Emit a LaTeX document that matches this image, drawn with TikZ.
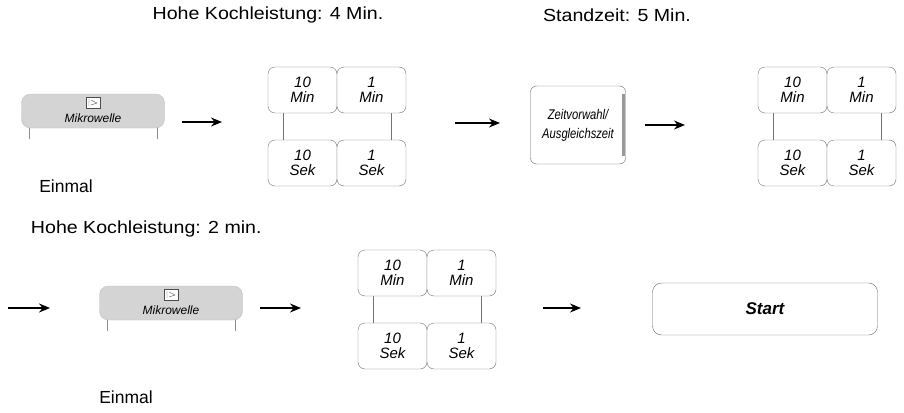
\documentclass[tikz,border=0pt]{standalone}
\usepackage{fontspec}
\setmainfont{Liberation Sans}
\usetikzlibrary{arrows.meta}
\tikzset{
  key/.style={draw=black!55, rounded corners=7pt, minimum width=69pt, minimum height=46pt,
    inner sep=0pt, align=center, font=\itshape\fontsize{15}{15.5}\selectfont},
  arr/.style={-{Stealth[length=11pt,width=9pt]}, line width=1.6pt},
  lbl/.style={font=\fontsize{17.5}{20}\selectfont},
  head/.style={font=\fontsize{17.5}{20}\selectfont, scale=1.0, xscale=1.12}
}
\newcommand\keypad[3]{% name, left, top
  \draw[black!55, fill=white] (#2+15,#3+40) rectangle (#2+123,#3+80);
  \node[key, fill=white] (#1a) at (#2+34.5,#3+23) {10\\Min};
  \node[key, fill=white] (#1b) at (#2+103.5,#3+23) {1\\Min};
  \node[key, fill=white] (#1c) at (#2+34.5,#3+96) {10\\Sek};
  \node[key, fill=white] (#1d) at (#2+103.5,#3+96) {1\\Sek};
}
\newcommand\mwbutton[3]{% name, center x, center y
  \draw[black!45] (#2-64,#3+12) -- (#2-64,#3+28);
  \draw[black!45] (#2+64,#3+12) -- (#2+64,#3+28);
  \node[fill=black!17, draw=black!25, rounded corners=9pt, minimum width=143pt, minimum height=34pt,
    inner sep=0pt] (#1) at (#2,#3) {};
  \draw[black!70, fill=white] (#2-7,#3-14) rectangle (#2+7,#3-3);
  \draw[black!70] (#2-4,#3-12) -- (#2-4,#3-5) (#2-2,#3-11) -- (#2+4,#3-8) -- (#2-2,#3-6);
  \node[font=\itshape\fontsize{12}{13}\selectfont] at (#2,#3+7) {Mikrowelle};
}
\begin{document}
\begin{tikzpicture}[x=1pt,y=-1pt]
  \useasboundingbox (0,0) rectangle (904,412);

  \node[head] (t1) at (268,15) {Hohe Kochleistung: 4 Min.};
  \node[head] (t2) at (617,15) {Standzeit: 5 Min.};
  \node[head, anchor=west] (t3) at (27,229) {Hohe Kochleistung: 2 min.};
  \node[lbl] (e1) at (66,186) {Einmal};
  \node[lbl] (e2) at (126,397) {Einmal};

  \mwbutton{mwA}{93}{111}
  \keypad{kpA}{268}{67}
  \node[draw=black!60, fill=white, rounded corners=6pt, minimum width=95pt, minimum height=78pt,
    align=center, inner sep=1pt, font=\itshape\fontsize{14}{19}\selectfont] (zv) at (578,125)
    {\scalebox{.8}[1]{Zeitvorwahl/}\\\scalebox{.8}[1]{Ausgleichszeit}};
  \draw[black!40, line width=3pt] (zv.north east) ++(-2,8) -- ++(0,62);
  \keypad{kpB}{758}{67}

  \mwbutton{mwB}{171}{303}
  \keypad{kpC}{358}{250}
  \node[draw=black!60, rounded corners=9pt, minimum width=225pt, minimum height=52pt,
    font=\bfseries\itshape\fontsize{17}{18}\selectfont] (st) at (765,309) {Start};

  \coordinate (a1s) at (182,122); \coordinate (a1e) at (222,122);
  \coordinate (a2s) at (455,123); \coordinate (a2e) at (500,123);
  \coordinate (a3s) at (645,125); \coordinate (a3e) at (685,125);
  \coordinate (a4s) at (8,308);   \coordinate (a4e) at (50,308);
  \coordinate (a5s) at (260,308); \coordinate (a5e) at (301,308);
  \coordinate (a6s) at (543,308); \coordinate (a6e) at (581,308);

  \draw[arr] (a1s) -- (a1e);
  \draw[arr] (a2s) -- (a2e);
  \draw[arr] (a3s) -- (a3e);
  \draw[arr] (a4s) -- (a4e);
  \draw[arr] (a5s) -- (a5e);
  \draw[arr] (a6s) -- (a6e);
\end{tikzpicture}
\end{document}
